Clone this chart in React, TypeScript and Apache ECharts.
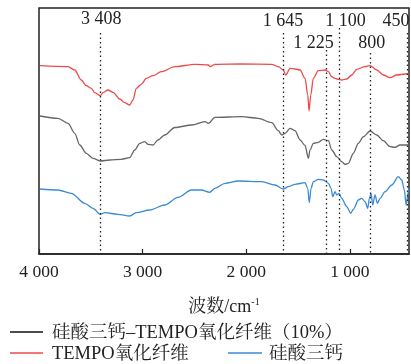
import React, { useEffect, useRef } from "react";
import * as echarts from "echarts";

// TEMPO氧化纤维 (red)
const redWavenumbers = [3990, 3720, 3655, 3592, 3544, 3495, 3462, 3408, 3382, 3334, 3286, 3221, 3173, 3125, 3093, 3061, 3013, 2965, 2900, 2820, 2690, 2495, 2366, 2350, 2302, 2044, 1754, 1691, 1643, 1619, 1578, 1530, 1481, 1433, 1407, 1394, 1378, 1353, 1305, 1240, 1208, 1175, 1144, 1112, 1079, 1031, 982, 934, 854, 806, 741, 678, 613, 548, 468, 430];
const redValues = [188.3, 187.3, 184, 174, 168.3, 165.7, 161.3, 158.3, 161.3, 164, 161.7, 155, 151.3, 149, 154, 165.7, 169.7, 175.7, 178.3, 182.3, 187.3, 189.7, 189, 187.3, 189.7, 190, 189.7, 187.3, 184, 179, 185.7, 185, 184, 175.7, 159, 143, 159, 175.7, 183.3, 184, 182.3, 177.3, 175.7, 174.7, 174, 175, 179, 184.7, 187.3, 188.3, 184, 179, 176.3, 179, 180, 180];

// 硅酸三钙-TEMPO氧化纤维(10%) (gray)
const grayWavenumbers = [3990, 3817, 3720, 3655, 3607, 3544, 3479, 3408, 3318, 3206, 3125, 3076, 3028, 2980, 2948, 2900, 2852, 2787, 2690, 2526, 2398, 2366, 2302, 2044, 1884, 1754, 1691, 1658, 1626, 1578, 1530, 1481, 1433, 1401, 1385, 1353, 1305, 1256, 1208, 1175, 1127, 1079, 1047, 1015, 967, 919, 870, 806, 741, 678, 613, 565, 516, 430];
const grayValues = [138, 135.7, 130.7, 120.7, 109, 100.7, 95.7, 93, 94, 94.7, 96.3, 104, 110.7, 112.3, 109.7, 109, 114, 119, 126.5, 129, 132.3, 130.7, 136.7, 137.3, 135.7, 131.3, 123.3, 119, 120.7, 125.7, 123.3, 114, 108.5, 95.7, 104, 110.7, 111.7, 114.7, 113.3, 104, 97.3, 92.3, 89.7, 90.7, 100.7, 110.7, 117.3, 123, 119, 113.3, 107.3, 106.7, 109, 109];

// 硅酸三钙 (blue)
const blueWavenumbers = [3990, 3817, 3688, 3559, 3479, 3408, 3366, 3238, 3125, 3061, 2932, 2787, 2659, 2530, 2434, 2353, 2302, 2205, 2077, 1851, 1723, 1643, 1594, 1530, 1433, 1407, 1392, 1375, 1353, 1305, 1256, 1208, 1182, 1166, 1144, 1127, 1105, 1079, 1031, 992, 967, 919, 886, 854, 828, 813, 796, 780, 758, 735, 709, 661, 596, 533, 500, 475, 458, 436, 430];
const blueValues = [65, 64, 60.7, 50.7, 45.7, 39.7, 41.3, 39.7, 38, 41.3, 44, 49, 56.7, 64, 64, 61.7, 65.7, 70.7, 73, 72.3, 69, 65, 67.3, 69.7, 71.3, 65.7, 51.3, 65.7, 72.3, 74.7, 74, 70.7, 65.7, 57.3, 62.3, 59, 60.7, 55.7, 47.3, 40.7, 44.7, 54, 55.7, 52.3, 45.7, 55.7, 60.7, 49, 59, 50.7, 55.7, 62.3, 69, 77.3, 74, 64, 49, 62.3, 65.7];

// peak markers
const peakWavenumbers = [3408, 1645, 1225, 1100, 800, 450];
const peakLabels = ["3 408", "1 645", "1 225", "1 100", "800", "450"];
const peakLineTops = [221, 221, 204, 226, 201, 221];
const peakLabelRow = [0, 0, 1, 0, 1, 0];
const peakLabelShift = [1, 0, -13, 6, 1, -11];

const xTicks = [1000, 2000, 3000, 4000];

const FONT = "'Liberation Serif', 'Noto Serif CJK SC', 'Noto Sans CJK SC', serif";

function zip(xs: number[], ys: number[]) {
  return xs.map((x, i) => [x, ys[i]]);
}

function fmt(v: number) {
  const s = String(Math.round(v));
  return s.length > 3 ? s.slice(0, s.length - 3) + " " + s.slice(s.length - 3) : s;
}

export default function App() {
  const ref = useRef<HTMLDivElement>(null);
  useEffect(() => {
    if (!ref.current) return;
    const chart = echarts.init(ref.current, null, { renderer: "svg" });
    const lineSeries = (name: string, data: number[][], color: string) => ({
      name,
      type: "line",
      data,
      showSymbol: false,
      smooth: 0.3,
      smoothMonotone: "x",
      lineStyle: { color, width: 1.3 },
      itemStyle: { color },
      z: 3,
    });
    chart.setOption({
      animation: false,
      grid: { left: 39, top: 8, width: 370, height: 246, show: true, borderColor: "#222", borderWidth: 1.5, backgroundColor: "transparent" },
      xAxis: {
        type: "value",
        inverse: true,
        min: 430,
        max: 4000,
        axisLine: { show: true, lineStyle: { color: "#222", width: 1.5 } },
        splitLine: { show: false },
        axisTick: { show: true, inside: true, length: 5, lineStyle: { color: "#222", width: 1.2 }, customValues: xTicks },
        axisLabel: { customValues: xTicks, formatter: (v: number) => fmt(v), color: "#222", fontSize: 17.5, fontFamily: FONT, margin: 8 },
        name: "{a|波数/cm}{s|-1}",
        nameLocation: "middle",
        nameGap: 42,
        nameTextStyle: {
          rich: {
            a: { fontSize: 18, fontFamily: FONT, color: "#222" },
            s: { fontSize: 10, fontFamily: FONT, color: "#222", padding: [0, 0, 10, 0] },
          },
        },
      },
      yAxis: { type: "value", min: 0, max: 246, show: false },
      series: [
        lineSeries("TEMPO氧化纤维", zip(redWavenumbers, redValues), "#ef4a4a"),
        lineSeries("硅酸三钙-TEMPO氧化纤维(10%)", zip(grayWavenumbers, grayValues), "#666666"),
        lineSeries("硅酸三钙", zip(blueWavenumbers, blueValues), "#3b8ad6"),
        {
          type: "line",
          data: [],
          markLine: {
            silent: true,
            symbol: "none",
            label: { show: false },
            lineStyle: { color: "#222", type: [1.5, 3], width: 1.3 },
            data: peakWavenumbers.map((w, i) => [{ coord: [w, peakLineTops[i]] }, { coord: [w, 0] }]),
          },
        },
      ],
    });

    const peakTexts = peakWavenumbers.map((w, i) => {
      const px = chart.convertToPixel({ xAxisIndex: 0 }, w) as number;
      return {
        type: "text",
        x: px + peakLabelShift[i],
        y: peakLabelRow[i] === 0 ? (i === 0 ? 18 : 20) : 42,
        style: { text: peakLabels[i], fontSize: 18, fontFamily: FONT, fill: "#222", align: "center", verticalAlign: "middle" },
      };
    });

    const legendItems = [
      { type: "line", shape: { x1: 10, y1: 332, x2: 43, y2: 332 }, style: { stroke: "#111", lineWidth: 1.5 } },
      { type: "text", x: 52, y: 332, style: { text: "硅酸三钙–TEMPO氧化纤维（10%）", fontSize: 18.5, fontFamily: FONT, fill: "#222", verticalAlign: "middle" } },
      { type: "line", shape: { x1: 10, y1: 353, x2: 43, y2: 353 }, style: { stroke: "#ef4a4a", lineWidth: 1.5 } },
      { type: "text", x: 52, y: 353, style: { text: "TEMPO氧化纤维", fontSize: 18.5, fontFamily: FONT, fill: "#222", verticalAlign: "middle" } },
      { type: "line", shape: { x1: 228, y1: 353, x2: 262, y2: 353 }, style: { stroke: "#3b8ad6", lineWidth: 1.5 } },
      { type: "text", x: 269, y: 353, style: { text: "硅酸三钙", fontSize: 18.5, fontFamily: FONT, fill: "#222", verticalAlign: "middle" } },
    ];

    chart.setOption({ graphic: [...peakTexts, ...legendItems] });
    return () => chart.dispose();
  }, []);
  return <div ref={ref} style={{ position: "fixed", left: 0, top: 0, width: 411, height: 364 }} />;
}
